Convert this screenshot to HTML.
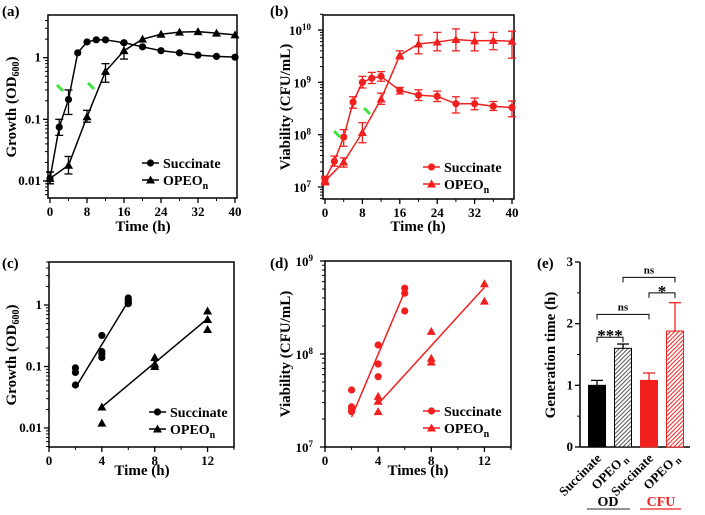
<!DOCTYPE html>
<html><head><meta charset="utf-8"><style>
html,body{margin:0;padding:0;background:#fff;}
svg{display:block;font-family:"Liberation Serif",serif;font-weight:bold;}
svg text{font-family:"Liberation Serif",serif;font-weight:bold;}
</style></head><body>
<svg id="fig" width="705" height="515" viewBox="0 0 705 515"></svg>
<script>
// ---- data panel a
const aSucT=[0,2,4,6,8,10,12,16,20,24,28,32,36,40];
const aSucV=[0.011,0.075,0.21,1.2,1.8,1.95,1.95,1.75,1.5,1.3,1.2,1.1,1.05,1.02];
const aSucLo=[0.009,0.055,0.12,1.2,1.8,1.95,1.95,1.75,1.5,1.3,1.2,1.1,1.05,1.02];
const aSucHi=[0.014,0.1,0.3,1.2,1.8,1.95,1.95,1.75,1.5,1.3,1.2,1.1,1.05,1.02];
const aOpT=[0,4,8,12,16,20,24,28,32,36,40];
const aOpV=[0.011,0.018,0.11,0.6,1.3,2.0,2.4,2.6,2.65,2.5,2.35];
const aOpLo=[0.009,0.013,0.09,0.4,0.95,2.0,2.4,2.6,2.65,2.5,2.35];
const aOpHi=[0.014,0.025,0.14,0.8,1.7,2.0,2.4,2.6,2.65,2.5,2.35];
// ---- data panel b
const bSucT=[0,2,4,6,8,10,12,16,20,24,28,32,36,40];
const bSucV=[1.4e7,3.1e7,9e7,4.2e8,1.0e9,1.2e9,1.3e9,7e8,5.7e8,5.4e8,3.9e8,3.9e8,3.5e8,3.3e8];
const bSucLo=[1.2e7,2.5e7,6e7,3.2e8,7.8e8,9.5e8,1.05e9,6e8,4.5e8,4.3e8,2.6e8,3.0e8,2.9e8,2.2e8];
const bSucHi=[1.6e7,3.9e7,1.25e8,5.3e8,1.3e9,1.55e9,1.6e9,8e8,7.2e8,6.8e8,5.3e8,5.0e8,4.3e8,4.4e8];
const bOpT=[0,4,8,12,16,20,24,28,32,36,40];
const bOpV=[1.3e7,3e7,1.1e8,4.8e8,3.3e9,5.4e9,5.9e9,6.6e9,6.2e9,6.3e9,6.1e9];
const bOpLo=[1.1e7,2.4e7,7e7,3.8e8,2.8e9,3.5e9,4.0e9,4.0e9,4.0e9,4.2e9,2.9e9];
const bOpHi=[1.5e7,3.6e7,1.7e8,6.2e8,4.0e9,8.0e9,9.0e9,1.05e10,9.0e9,9.0e9,9.5e9];
// ---- data panel c
const cSucT=[2,2,2,4,4,4,4,6,6,6,6];
const cSucV=[0.095,0.08,0.05,0.32,0.175,0.16,0.14,1.3,1.2,1.1,1.05];
const cSucFitT=[2,6];
const cSucFitV=[0.045,1.15];
const cOpT=[4,4,8,8,8,12,12,12];
const cOpV=[0.022,0.012,0.14,0.11,0.1,0.8,0.58,0.4];
const cOpFitT=[4,12];
const cOpFitV=[0.022,0.6];
// ---- data panel d
const dSucT=[2,2,2,2,4,4,4,6,6,6];
const dSucV=[4.1e7,2.7e7,2.5e7,2.4e7,1.25e8,7.8e7,5.7e7,5.1e8,4.5e8,2.9e8];
const dSucFitT=[2,6];
const dSucFitV=[2.1e7,4.7e8];
const dOpT=[4,4,4,8,8,8,12,12];
const dOpV=[3.5e7,3.1e7,2.4e7,1.75e8,9e7,8.2e7,5.7e8,3.7e8];
const dOpFitT=[4,12];
const dOpFitV=[2.9e7,5.2e8];
// ---- data panel e
const eCats=["Succinate","OPEO","Succinate","OPEO"];
const eVals=[1.0,1.6,1.08,1.88];
const eErrs=[0.08,0.07,0.12,0.46];
const eTicks=[0,1,2,3];

const svg=document.getElementById('fig');
const NS="http://www.w3.org/2000/svg";
function el(tag,attrs,parent,name,txt){
  const e=document.createElementNS(NS,tag);
  for(const k in attrs)e.setAttribute(k,attrs[k]);
  
  
  if(txt!==undefined)e.textContent=txt;
  (parent||svg).appendChild(e);return e;
}
function linS(d0,d1,r0,r1){return v=>r0+(v-d0)/(d1-d0)*(r1-r0);}
function logS(d0,d1,r0,r1){return v=>r0+(Math.log10(v)-Math.log10(d0))/(Math.log10(d1)-Math.log10(d0))*(r1-r0);}
function marker(g,type,x,y,col,name){
  if(type==='c')el('circle',{cx:x,cy:y,r:3.6,fill:col},g,name);
  else el('polygon',{points:`${x},${y-4.5} ${x-4.5},${y+3.5} ${x+4.5},${y+3.5}`,fill:col},g,name);
}
function frame(g,L,R,T,B){
  el('rect',{x:L,y:T,width:R-L,height:B-T,fill:'none',stroke:'#000','stroke-width':1.5},g,'plot-frame');
}
function xTicks(g,xs,B,majors,minors,fs){
  majors.forEach(v=>{el('line',{x1:xs(v),y1:B,x2:xs(v),y2:B+5,stroke:'#000','stroke-width':1.3},g,'x-tick');
    el('text',{x:xs(v),y:B+18,'text-anchor':'middle','font-size':fs},g,'x-tick-label',String(v));});
  minors.forEach(v=>el('line',{x1:xs(v),y1:B,x2:xs(v),y2:B+3,stroke:'#000','stroke-width':1},g,'x-minor-tick'));
}
function yLogTicks(g,ys,L,d0,d1,labelFn){
  for(let e=Math.floor(Math.log10(d0));e<=Math.ceil(Math.log10(d1));e++){
    for(let m=1;m<10;m++){
      const v=m*Math.pow(10,e); if(v<d0||v>d1)continue;
      const y=ys(v);
      el('line',{x1:L,y1:y,x2:L-(m===1?5:3),y2:y,stroke:'#000','stroke-width':m===1?1.3:1},g,m===1?'y-tick':'y-minor-tick');
      if(m===1)labelFn(y,e);
    }
  }
}
function legend(g,x,y,col){
  [['c','Succinate'],['t','OPEO']].forEach((it,i)=>{
    const yy=y+i*17;
    el('line',{x1:x,y1:yy,x2:x+17,y2:yy,stroke:col,'stroke-width':1.5},g,'legend-line');
    marker(g,it[0],x+8.5,yy,col,'legend-marker');
    const t=el('text',{x:x+21,y:yy+5,'font-size':14,fill:'#000'},g,'legend-label',it[1]);
    if(it[0]==='t'){el('tspan',{'font-size':10,dy:4},t,'legend-subscript','n');}
  });
}
function series(g,xs,ys,T,V,Lo,Hi,type,col,name){
  el('polyline',{points:T.map((t,i)=>xs(t)+','+ys(V[i])).join(' '),fill:'none',stroke:col,'stroke-width':1.5},g,name+'-line');
  T.forEach((t,i)=>{
    if(Lo&&(Hi[i]!==V[i]||Lo[i]!==V[i])){
      const x=xs(t);
      el('line',{x1:x,y1:ys(Lo[i]),x2:x,y2:ys(Hi[i]),stroke:col,'stroke-width':1.3},g,name+'-errorbar');
      el('line',{x1:x-4,y1:ys(Lo[i]),x2:x+4,y2:ys(Lo[i]),stroke:col,'stroke-width':1.3},g,name+'-errorcap');
      el('line',{x1:x-4,y1:ys(Hi[i]),x2:x+4,y2:ys(Hi[i]),stroke:col,'stroke-width':1.3},g,name+'-errorcap');
    }
    marker(g,type,xs(t),ys(V[i]),col,name+'-point');
  });
}
function scatter(g,xs,ys,T,V,FT,FV,type,col,name){
  el('line',{x1:xs(FT[0]),y1:ys(FV[0]),x2:xs(FT[1]),y2:ys(FV[1]),stroke:col,'stroke-width':1.5},g,name+'-fit-line');
  T.forEach((t,i)=>marker(g,type,xs(t),ys(V[i]),col,name+'-point'));
}
function ylabel(g,x,y,txt,sub,subAfter){
  const t=el('text',{x:x,y:y,'text-anchor':'middle','font-size':15,transform:`rotate(-90 ${x} ${y})`},g,'y-axis-title',txt);
  if(sub){el('tspan',{'font-size':10,dy:3},t,'y-title-subscript',sub);el('tspan',{dy:-3},t,'y-title-rest',subAfter);}
}
function arrow(g,x,y){el('line',{x1:x-3,y1:y-3,x2:x+3,y2:y+3,stroke:'#39e639','stroke-width':3},g,'green-arrow');}
function sup(g,x,y,e){const t=el('text',{x:x,y:y,'text-anchor':'end','font-size':13},g,'y-tick-label','10');
  el('tspan',{'font-size':9,dy:-5},t,'y-tick-exponent',String(e));}

// ---- Panel a
(function(){
  const g=el('g',{},svg,'panel-a');
  const L=48,R=237,T=15,B=198;
  const xs=linS(0,40,50,235), ys=logS(0.01,1,181,57.7);
  el('text',{x:2,y:16,'font-size':15},g,'panel-label-a','(a)');
  frame(g,L,R,T,B);
  xTicks(g,xs,B,[0,8,16,24,32,40],[4,12,20,28,36],13);
  yLogTicks(g,ys,L,0.006,4.9,(y,e)=>el('text',{x:L-7,y:y+4,'text-anchor':'end','font-size':13},g,'y-tick-label',String(Math.pow(10,e))));
  el('text',{x:143,y:231,'text-anchor':'middle','font-size':15},g,'x-axis-title','Time (h)');
  ylabel(g,16,107,'Growth (OD','600',')');
  series(g,xs,ys,aSucT,aSucV,aSucLo,aSucHi,'c','#000','succinate');
  series(g,xs,ys,aOpT,aOpV,aOpLo,aOpHi,'t','#000','opeo');
  arrow(g,60,88);arrow(g,91,86);
  legend(g,142,163,'#000');
})();
// ---- Panel b
(function(){
  const g=el('g',{},svg,'panel-b');
  const L=323,R=514,T=15,B=199;
  const xs=linS(0,40,325,512), ys=logS(1e7,1e10,187,30);
  el('text',{x:270,y:16,'font-size':15},g,'panel-label-b','(b)');
  frame(g,L,R,T,B);
  xTicks(g,xs,B,[0,8,16,24,32,40],[4,12,20,28,36],13);
  yLogTicks(g,ys,L,6e6,2e10,(y,e)=>sup(g,L-12,y+5,e));
  el('text',{x:418,y:231,'text-anchor':'middle','font-size':15},g,'x-axis-title','Time (h)');
  ylabel(g,290,107,'Viability (CFU/mL)');
  series(g,xs,ys,bSucT,bSucV,bSucLo,bSucHi,'c','#f21f1f','succinate');
  series(g,xs,ys,bOpT,bOpV,bOpLo,bOpHi,'t','#f21f1f','opeo');
  arrow(g,337,134);arrow(g,367,111);
  legend(g,423,167,'#f21f1f');
})();
// ---- Panel c
(function(){
  const g=el('g',{},svg,'panel-c');
  const L=49,R=234,T=262,B=447;
  const xs=linS(0,14,49,234), ys=logS(0.01,1,428,305);
  el('text',{x:2,y:268,'font-size':15},g,'panel-label-c','(c)');
  frame(g,L,R,T,B);
  xTicks(g,xs,B,[0,4,8,12],[2,6,10,14],13);
  yLogTicks(g,ys,L,0.0049,5,(y,e)=>el('text',{x:L-7,y:y+4,'text-anchor':'end','font-size':13},g,'y-tick-label',String(Math.pow(10,e))));
  el('text',{x:142,y:475,'text-anchor':'middle','font-size':15},g,'x-axis-title','Time (h)');
  ylabel(g,16,355,'Growth (OD','600',')');
  scatter(g,xs,ys,cSucT,cSucV,cSucFitT,cSucFitV,'c','#000','succinate');
  scatter(g,xs,ys,cOpT,cOpV,cOpFitT,cOpFitV,'t','#000','opeo');
  legend(g,149,412,'#000');
})();
// ---- Panel d
(function(){
  const g=el('g',{},svg,'panel-d');
  const L=325,R=511,T=261,B=447;
  const xs=linS(0,14,325,511), ys=logS(1e7,1e9,447,261);
  el('text',{x:270,y:268,'font-size':15},g,'panel-label-d','(d)');
  frame(g,L,R,T,B);
  xTicks(g,xs,B,[0,4,8,12],[2,6,10,14],13);
  yLogTicks(g,ys,L,1e7,1e9,(y,e)=>sup(g,L-12,y+5,e));
  el('text',{x:418,y:475,'text-anchor':'middle','font-size':15},g,'x-axis-title','Times (h)');
  ylabel(g,290,354,'Viability (CFU/mL)');
  scatter(g,xs,ys,dSucT,dSucV,dSucFitT,dSucFitV,'c','#f21f1f','succinate');
  scatter(g,xs,ys,dOpT,dOpV,dOpFitT,dOpFitV,'t','#f21f1f','opeo');
  legend(g,423,411,'#f21f1f');
})();
// ---- Panel e
(function(){
  const g=el('g',{},svg,'panel-e');
  const defs=el('defs',{},g,'patterns');
  const p1=el('pattern',{id:'hg',width:3,height:3,patternUnits:'userSpaceOnUse',patternTransform:'rotate(45)'},defs,'hatch-grey');
  el('rect',{width:3,height:3,fill:'#fff'},p1,'hatch-bg');el('line',{x1:0,y1:0,x2:0,y2:3,stroke:'#555','stroke-width':2},p1,'hatch-line');
  const p2=el('pattern',{id:'hr',width:3,height:3,patternUnits:'userSpaceOnUse',patternTransform:'rotate(45)'},defs,'hatch-red');
  el('rect',{width:3,height:3,fill:'#fff'},p2,'hatch-bg');el('line',{x1:0,y1:0,x2:0,y2:3,stroke:'#f22','stroke-width':2},p2,'hatch-line');
  const L=580,B=447,T=262;
  const ys=linS(0,3,447,262);
  const cx=[597,623,649,675], bw=17;
  const fills=['#000','url(#hg)','#f21f1f','url(#hr)'], strokes=['#000','#000','#f21f1f','#f21f1f'];
  el('text',{x:537,y:268,'font-size':15},g,'panel-label-e','(e)');
  el('line',{x1:L,y1:T,x2:L,y2:B,stroke:'#000','stroke-width':1.5},g,'y-axis-line');
  el('line',{x1:L,y1:B,x2:690,y2:B,stroke:'#000','stroke-width':1.5},g,'x-axis-line');
  eTicks.forEach(v=>{el('line',{x1:L,y1:ys(v),x2:L-5,y2:ys(v),stroke:'#000','stroke-width':1.3},g,'y-tick');
    el('text',{x:L-7,y:ys(v)+4,'text-anchor':'end','font-size':13},g,'y-tick-label',String(v));
    if(v<3)el('line',{x1:L,y1:ys(v+0.5),x2:L-3,y2:ys(v+0.5),stroke:'#000','stroke-width':1},g,'y-minor-tick');});
  eVals.forEach((v,i)=>{
    el('line',{x1:cx[i],y1:ys(v),x2:cx[i],y2:ys(v+eErrs[i]),stroke:strokes[i],'stroke-width':1.3},g,'bar-errorbar');
    el('line',{x1:cx[i]-6,y1:ys(v+eErrs[i]),x2:cx[i]+6,y2:ys(v+eErrs[i]),stroke:strokes[i],'stroke-width':1.3},g,'bar-errorcap');
    el('rect',{x:cx[i]-bw/2,y:ys(v),width:bw,height:ys(0)-ys(v),fill:fills[i],stroke:strokes[i],'stroke-width':1},g,'bar-'+(i+1));
    const lx=cx[i]+5, ly=B+12;
    const t=el('text',{x:lx,y:ly,'text-anchor':'end','font-size':13,transform:`rotate(-45 ${lx} ${ly})`},g,'x-tick-label',eCats[i]);
    if(i%2===1)el('tspan',{'font-size':10,dy:3,dx:2},t,'x-label-subscript','n');
  });
  function br(i,j,v,lab){const y=ys(v);
    el('polyline',{points:`${cx[i]},${y+5} ${cx[i]},${y} ${cx[j]},${y} ${cx[j]},${y+5}`,fill:'none',stroke:'#000','stroke-width':1},g,'significance-bracket');
    el('text',{x:(cx[i]+cx[j])/2,y:y-(lab==='ns'?4:-4),'text-anchor':'middle','font-size':lab==='ns'?11:17},g,'significance-label',lab);}
  br(0,1,1.78,'***');br(0,2,2.15,'ns');br(2,3,2.5,'*');br(1,3,2.75,'ns');
  ylabel(g,555,355,'Generation time (h)');
  el('text',{x:608,y:506,'text-anchor':'middle','font-size':14},g,'group-label-od','OD');
  el('line',{x1:587,y1:509,x2:630,y2:509,stroke:'#555','stroke-width':1.3},g,'group-underline-od');
  el('text',{x:661,y:506,'text-anchor':'middle','font-size':14,fill:'#f21f1f'},g,'group-label-cfu','CFU');
  el('line',{x1:640,y1:509,x2:681,y2:509,stroke:'#f21f1f','stroke-width':1.3},g,'group-underline-cfu');
})();
</script>
</body></html>
